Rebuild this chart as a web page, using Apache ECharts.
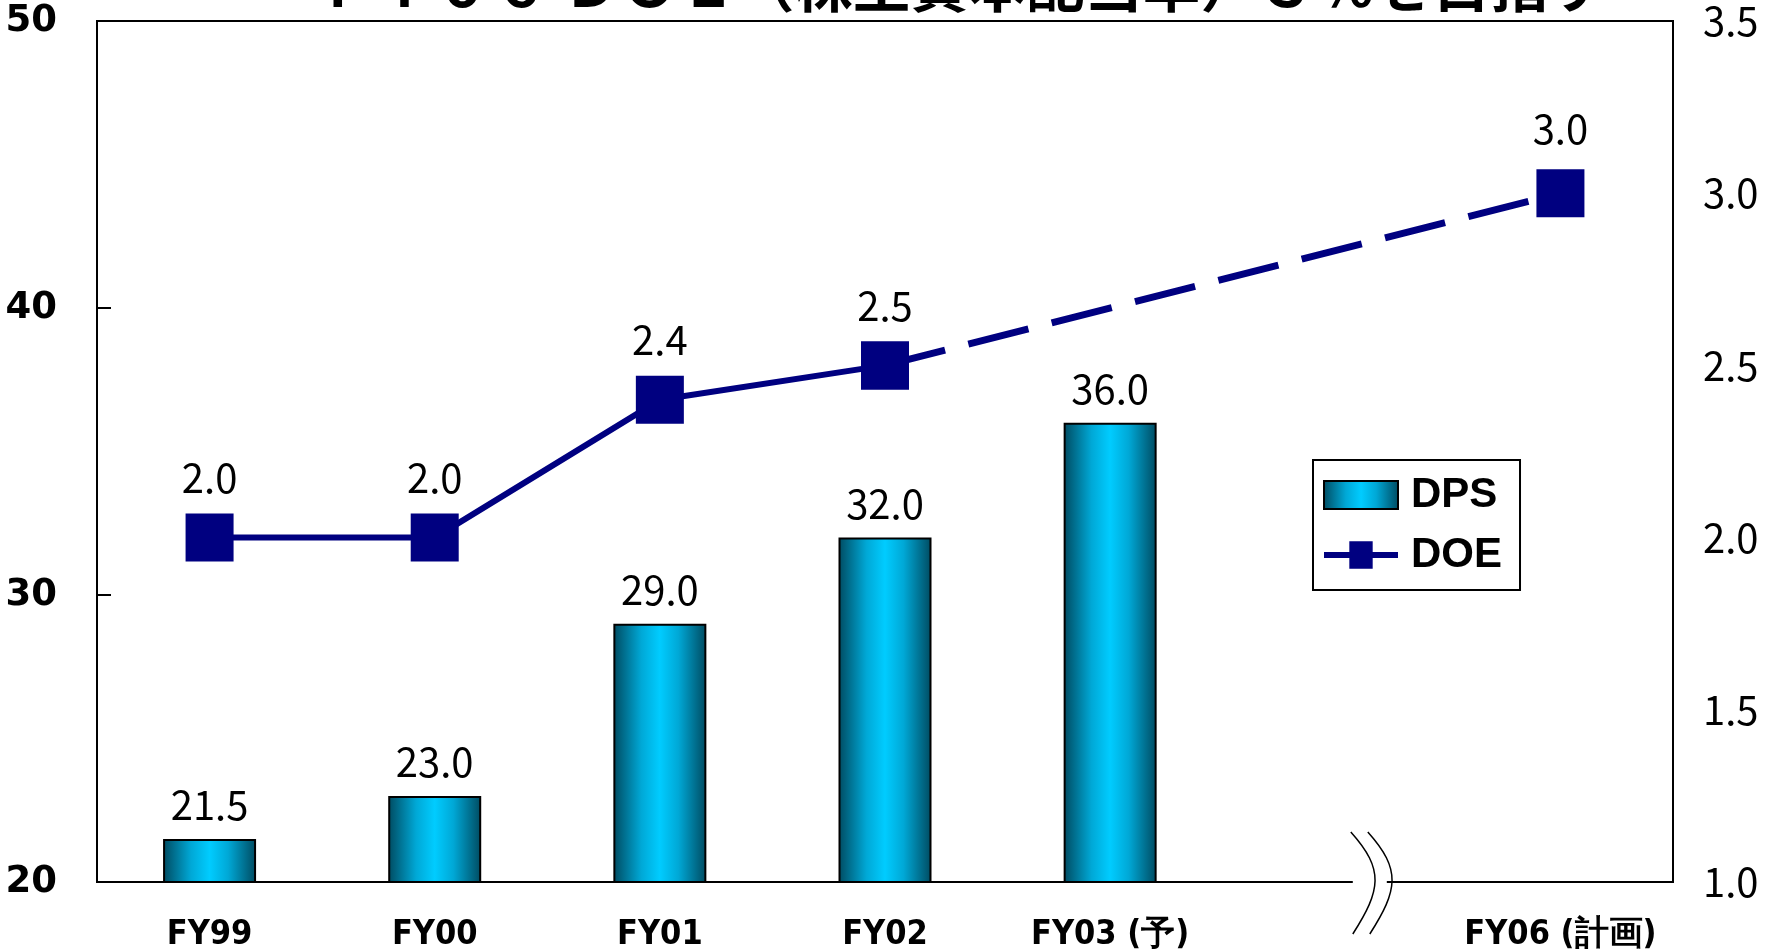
<!DOCTYPE html>
<html><head><meta charset="utf-8">
<script src="https://cdn.jsdelivr.net/npm/echarts@6/dist/echarts.min.js"></script>
<style>html,body{margin:0;padding:0;background:#fff}#c{width:1782px;height:952px}</style>
</head><body><div id="c"></div>
<script>
const categories = ['FY99', 'FY00', 'FY01', 'FY02', 'FY03(予)', '', 'FY06(計画)'];
const dps = [21.5, 23.0, 29.0, 32.0, 36.0, null, null];
const doeActual = [2.0, 2.0, 2.4, 2.5, null, null, null];
const doePlan = [null, null, null, 2.5, null, null, 3.0];
const leftTicks = [20, 50, 10];
const rightTicks = [1.0, 3.5, 0.5];
const titleText = 'ＦＹ０６ ＤＯＥ（株主資本配当率）３％を目指す';

const chart = echarts.init(document.getElementById('c'), null, {renderer: 'canvas'});
const navy = '#000080';
const barGrad = new echarts.graphic.LinearGradient(0, 0, 1, 0, [
  {offset: 0, color: '#004a60'},
  {offset: 0.3, color: '#00a8d6'},
  {offset: 0.5, color: '#00ccff'},
  {offset: 0.7, color: '#00a8d6'},
  {offset: 1, color: '#004a60'}
]);
const labelFont = {fontFamily: '"Noto Sans CJK JP", sans-serif', fontSize: 40, color: '#000'};
const condensed = '"DejaVu Sans Condensed", "Liberation Sans Narrow", sans-serif';

chart.setOption({
  animation: false,
  backgroundColor: '#fff',
  grid: {left: 97, right: 109, top: 21, bottom: 70, show: true, borderColor: '#000', borderWidth: 2, containLabel: false},
  legend: {
    orient: 'vertical', left: 1313, top: 460,
    data: [{name: 'DPS', icon: 'rect'},
           {name: 'DOE', icon: 'path://M0,11H26V0H50V11H76V17H50V28H26V17H0Z'}],
    borderColor: '#000', borderWidth: 2, padding: [14, 18, 14, 10],
    itemWidth: 74, itemHeight: 28, itemGap: 18,
    textStyle: {fontFamily: '"Liberation Sans", Arial, sans-serif', fontWeight: 'bold', fontSize: 42, color: '#000', padding: [0, 0, 0, 8]}
  },
  xAxis: {
    type: 'category', data: categories,
    axisLine: {lineStyle: {color: '#000', width: 2}},
    axisTick: {inside: true, length: 14, lineStyle: {color: '#000', width: 2}},
    axisLabel: {interval: 0, margin: 36, fontFamily: condensed, fontWeight: 'bold', fontSize: 34, color: '#000',
      formatter: v => v.replace('(', ' (')}
  },
  yAxis: [{
    type: 'value', min: leftTicks[0], max: leftTicks[1], interval: leftTicks[2],
    splitLine: {show: false},
    axisLine: {show: true, lineStyle: {color: '#000', width: 2}},
    axisTick: {show: true, inside: true, length: 14, lineStyle: {color: '#000', width: 2}},
    axisLabel: {margin: 40, fontFamily: '"DejaVu Sans", sans-serif', fontWeight: 'bold', fontSize: 37, color: '#000'}
  }, {
    type: 'value', min: rightTicks[0], max: rightTicks[1], interval: rightTicks[2],
    splitLine: {show: false},
    axisLine: {show: true, lineStyle: {color: '#000', width: 2}},
    axisTick: {show: false},
    axisLabel: {margin: 30, fontFamily: '"Noto Sans CJK JP", sans-serif', fontSize: 40, color: '#000',
      formatter: v => v.toFixed(1)}
  }],
  series: [{
    name: 'DPS', type: 'bar', data: dps, barWidth: 93, yAxisIndex: 0,
    itemStyle: {color: barGrad, borderColor: '#000', borderWidth: 2},
    label: {show: true, position: 'top', distance: 14, ...labelFont, formatter: p => p.value.toFixed(1)}
  }, {
    name: 'DOE', type: 'line', data: doeActual, yAxisIndex: 1,
    symbol: 'rect', symbolSize: 48, z: 5,
    lineStyle: {color: navy, width: 6}, itemStyle: {color: navy},
    label: {show: true, position: 'top', distance: 16, ...labelFont, formatter: p => p.value.toFixed(1)}
  }, {
    name: 'DOE計画', type: 'line', data: doePlan, yAxisIndex: 1, connectNulls: true,
    symbol: 'rect', symbolSize: 48, z: 4,
    lineStyle: {color: navy, width: 7, type: [62, 24]}, itemStyle: {color: navy},
    label: {show: true, position: 'top', distance: 20, ...labelFont,
      formatter: p => p.dataIndex === doePlan.length - 1 ? p.value.toFixed(1) : ''}
  }]
});

// decorations: cut-off title and axis break mark
const cx = chart.convertToPixel({xAxisIndex: 0}, 5);
const cx2 = chart.convertToPixel({xAxisIndex: 0}, 6);
const band = cx2 - cx;
const bx = cx + 0.14 * band;
const by = chart.convertToPixel({yAxisIndex: 0}, leftTicks[0]);
const wave = (x) => ({type: 'bezierCurve', z: 101, silent: true,
  shape: {x1: x - 8, y1: by - 50, cpx1: x + 26, cpy1: by - 12, cpx2: x + 22, cpy2: by + 8, x2: x - 6, y2: by + 52},
  style: {fill: null, stroke: '#000', lineWidth: 1.5}});
chart.setOption({
  graphic: [
    {type: 'text', x: 962, y: 14, silent: true, style: {text: titleText, fontSize: 58, fontWeight: 'bold',
      fontFamily: '"Noto Sans CJK JP", sans-serif', fill: '#000', align: 'center', verticalAlign: 'bottom'}},
    {type: 'rect', silent: true, shape: {x: bx - 14, y: by - 3, width: 34, height: 6}, style: {fill: '#fff'}, z: 100},
    wave(bx - 8),
    wave(bx + 9)
  ]
});
</script></body></html>
